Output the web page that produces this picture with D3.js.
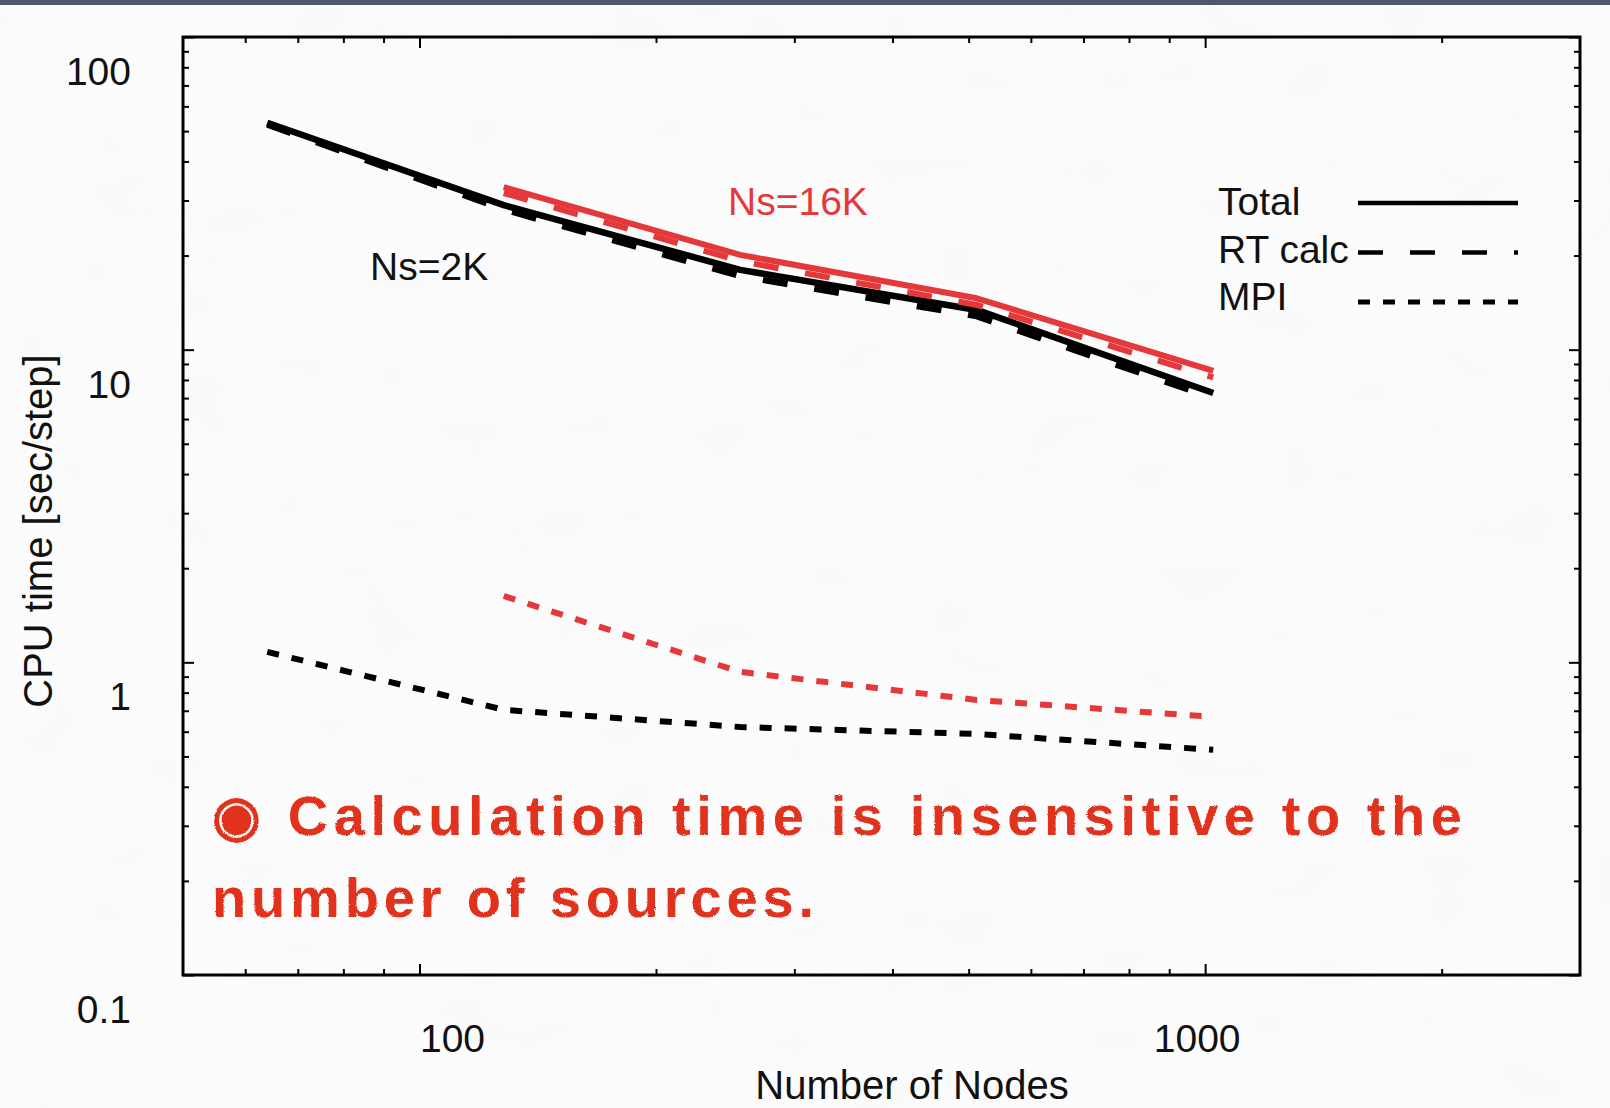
<!DOCTYPE html>
<html>
<head>
<meta charset="utf-8">
<script src="https://cdn.jsdelivr.net/npm/d3@7"></script>
<style>
  html, body { margin: 0; padding: 0; background: #fcfcfc; }
  svg { display: block; }
  text { font-family: "Liberation Sans", Arial, Helvetica, sans-serif; }
</style>
</head>
<body>
<script>
// ---- data: CPU time per step vs. number of nodes ----
const nodes2K  = [64, 128, 256, 512, 1024];
const total2K  = [53.2, 29.0, 18.0, 13.4, 7.27];
const rtcalc2K = [52.5, 28.1, 17.2, 12.8, 7.0];
const mpi2K    = [1.08, 0.705, 0.621, 0.590, 0.525];

const nodes16K  = [128, 256, 512, 1024];
const total16K  = [33.1, 20.1, 14.6, 8.55];
const rtcalc16K = [31.7, 19.2, 13.9, 8.15];
const mpi16K    = [1.63, 0.932, 0.758, 0.669];

const legendNames = ["Total", "RT calc", "MPI"];
const xMajor = [100, 1000];
const xMinor = [60, 70, 80, 90, 200, 300, 400, 500, 600, 700, 800, 900, 2000];
const yMajor = [0.1, 1, 10, 100];
const yMinor = [0.2, 0.3, 0.4, 0.5, 0.6, 0.7, 0.8, 0.9,
                2, 3, 4, 5, 6, 7, 8, 9,
                20, 30, 40, 50, 60, 70, 80, 90];
const noteLines = ["\u25C9 Calculation time is insensitive to the", "number of sources."];

// ---- layout ----
const W = 1610, H = 1108;
const margin = { top: 37, right: 30, bottom: 133, left: 183 };
const BLACK = "#000000", RED = "#e5383b", NOTE = "#e0321c";

const svg = d3.select("body").append("svg")
  .attr("width", W).attr("height", H);

// faint mottled slide background
const defs = svg.append("defs");
const tex = defs.append("filter").attr("id", "mottle")
  .attr("x", 0).attr("y", 0).attr("width", "100%").attr("height", "100%");
tex.append("feTurbulence").attr("type", "fractalNoise")
  .attr("baseFrequency", "0.012 0.02").attr("numOctaves", 2).attr("seed", 7);
tex.append("feColorMatrix").attr("type", "matrix")
  .attr("values", "0 0 0 0 0.55  0 0 0 0 0.55  0 0 0 0 0.56  0 0 0 -2.6 1.35");
const rough = defs.append("filter").attr("id", "rough");
rough.append("feTurbulence").attr("type", "fractalNoise")
  .attr("baseFrequency", 0.9).attr("numOctaves", 1).attr("result", "n");
rough.append("feDisplacementMap").attr("in", "SourceGraphic").attr("in2", "n")
  .attr("scale", 2.5).attr("xChannelSelector", "R").attr("yChannelSelector", "G");

svg.append("rect").attr("width", W).attr("height", H).attr("fill", "#fcfcfc");
svg.append("rect").attr("width", W).attr("height", H)
  .attr("filter", "url(#mottle)").attr("opacity", 0.05);
// dark strip along the top edge
svg.append("rect").attr("x", 0).attr("y", 0).attr("width", W).attr("height", 5)
  .attr("fill", "#52566a");

// ---- scales ----
const x = d3.scaleLog().domain([50, 3000]).range([margin.left, W - margin.right]);
const y = d3.scaleLog().domain([0.1, 100]).range([H - margin.bottom, margin.top]);
// tick labels sit on a slightly compressed copy of the x scale
const xLabel = d3.scaleLog().domain([100, 1000]).range([x(100) + 33, x(1000) - 8]);

const x0 = margin.left, x1 = W - margin.right, y0 = H - margin.bottom, y1 = margin.top;

// ---- tick marks (inward, on all four sides) ----
function ticks(axisFn, scale, values, size, transform) {
  svg.append("g").attr("transform", transform)
    .call(axisFn(scale).tickValues(values).tickSize(size).tickFormat(""))
    .call(g => g.select(".domain").remove())
    .call(g => g.selectAll("line").attr("stroke", BLACK).attr("stroke-width", 2));
}
ticks(d3.axisLeft,   y, yMajor, -11, `translate(${x0},0)`);
ticks(d3.axisLeft,   y, yMinor, -6,  `translate(${x0},0)`);
ticks(d3.axisRight,  y, yMajor, -11, `translate(${x1},0)`);
ticks(d3.axisRight,  y, yMinor, -6,  `translate(${x1},0)`);
ticks(d3.axisBottom, x, xMajor, -11, `translate(0,${y0})`);
ticks(d3.axisBottom, x, xMinor, -6,  `translate(0,${y0})`);
ticks(d3.axisTop,    x, xMajor, -11, `translate(0,${y1})`);
ticks(d3.axisTop,    x, xMinor, -6,  `translate(0,${y1})`);

// frame
svg.append("rect").attr("x", x0).attr("y", y1)
  .attr("width", x1 - x0).attr("height", y0 - y1)
  .attr("fill", "none").attr("stroke", BLACK).attr("stroke-width", 3);

// tick labels
svg.append("g").selectAll("text").data(yMajor).join("text")
  .attr("x", 131).attr("y", d => y(d) + 48)
  .attr("text-anchor", "end").attr("font-size", 39).attr("fill", "#111")
  .text(d => d3.format("~g")(d));
svg.append("g").selectAll("text").data(xMajor).join("text")
  .attr("x", d => xLabel(d)).attr("y", 1052)
  .attr("text-anchor", "middle").attr("font-size", 39).attr("fill", "#111")
  .text(d => d3.format("~g")(d));

// axis titles
svg.append("text").attr("x", 912).attr("y", 1099)
  .attr("text-anchor", "middle").attr("font-size", 40).attr("fill", "#111")
  .text("Number of Nodes");
svg.append("text")
  .attr("transform", `translate(52,${(y0 + y1) / 2 + 25}) rotate(-90)`)
  .attr("text-anchor", "middle").attr("font-size", 40).attr("fill", "#111")
  .text("CPU time [sec/step]");

// ---- series ----
const dashes = { "Total": null, "RT calc": "25,27", "MPI": "12,13" };
const line = d3.line().x(d => x(d[0])).y(d => y(d[1]));
const series = [
  { nodes: nodes2K,  vals: total2K,   kind: "Total",   color: BLACK, w: 6.5 },
  { nodes: nodes2K,  vals: rtcalc2K,  kind: "RT calc", color: BLACK, w: 6.5 },
  { nodes: nodes2K,  vals: mpi2K,     kind: "MPI",     color: BLACK, w: 6 },
  { nodes: nodes16K, vals: total16K,  kind: "Total",   color: RED,   w: 6 },
  { nodes: nodes16K, vals: rtcalc16K, kind: "RT calc", color: RED,   w: 6 },
  { nodes: nodes16K, vals: mpi16K,    kind: "MPI",     color: RED,   w: 6 }
];
svg.append("g").selectAll("path").data(series).join("path")
  .attr("d", s => line(s.nodes.map((n, i) => [n, s.vals[i]])))
  .attr("fill", "none")
  .attr("stroke", s => s.color)
  .attr("stroke-width", s => s.w)
  .attr("stroke-dasharray", s => dashes[s.kind])
  .attr("stroke-linecap", "butt")
  .attr("stroke-linejoin", "round");

// series annotations
svg.append("text").attr("x", 370).attr("y", 280)
  .attr("font-size", 39).attr("fill", "#111").text("Ns=2K");
svg.append("text").attr("x", 728).attr("y", 215)
  .attr("font-size", 39).attr("fill", RED).text("Ns=16K");

// ---- legend ----
const lg = svg.append("g");
legendNames.forEach((name, i) => {
  lg.append("text").attr("x", 1218).attr("y", 215 + i * 47.5)
    .attr("font-size", 39).attr("fill", "#111").text(name);
  lg.append("line")
    .attr("x1", 1358).attr("x2", 1518)
    .attr("y1", 203 + i * 49.5).attr("y2", 203 + i * 49.5)
    .attr("stroke", BLACK).attr("stroke-width", i === 2 ? 5 : 4.5)
    .attr("stroke-dasharray", dashes[name]);
});

// ---- handwritten remark ----
const noteLen = [1250, 602];
svg.append("g").attr("filter", "url(#rough)")
  .selectAll("text").data(noteLines).join("text")
  .attr("x", 212).attr("y", (d, i) => 835 + i * 82)
  .attr("font-family", "'Open Sans', 'DejaVu Sans', sans-serif")
  .attr("font-weight", 600)
  .attr("font-size", 56).attr("fill", NOTE)
  .attr("textLength", (d, i) => noteLen[i])
  .attr("lengthAdjust", "spacing")
  .text(d => d);
</script>
</body>
</html>
